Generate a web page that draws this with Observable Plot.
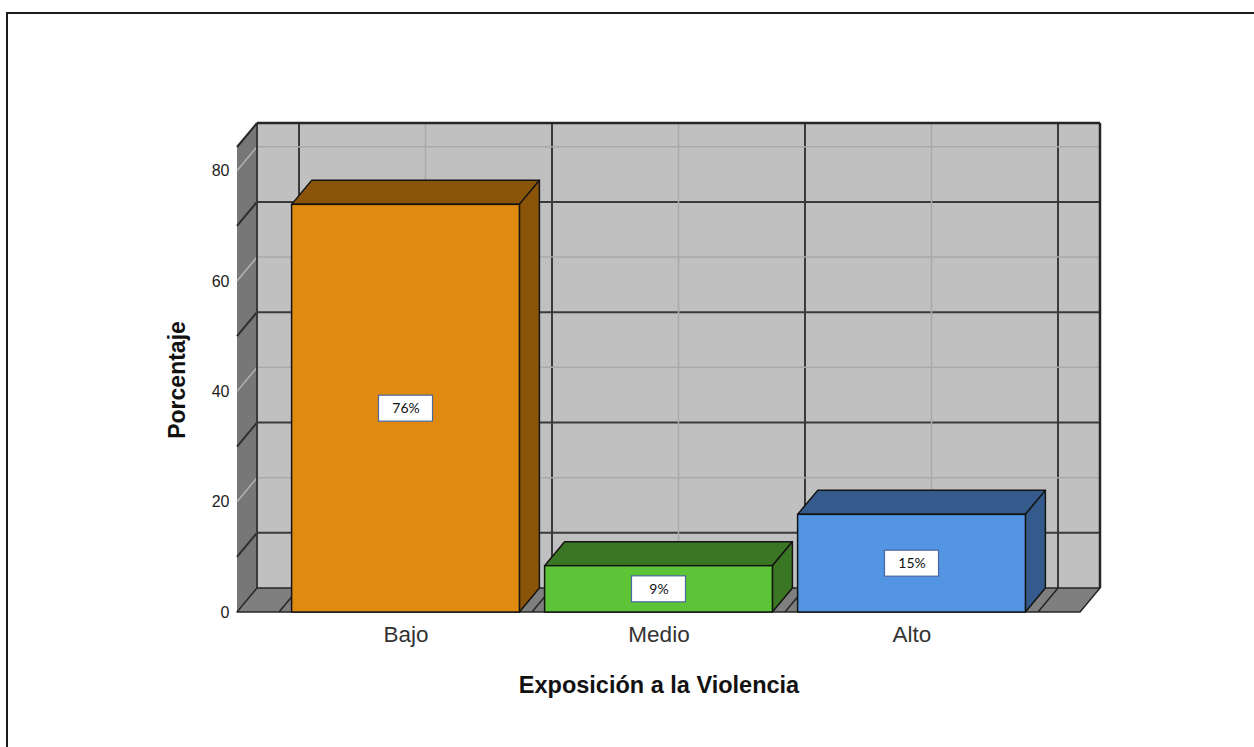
<!DOCTYPE html>
<html><head><meta charset="utf-8">
<script src="https://cdn.jsdelivr.net/npm/d3@7"></script>
<script src="https://cdn.jsdelivr.net/npm/@observablehq/plot@0.6"></script>
<style>
html,body{margin:0;padding:0;background:#fff;overflow:hidden;width:1254px;height:747px;}
#chart{position:absolute;left:0;top:0;}
#frame{position:absolute;left:6px;top:12px;width:1400px;height:900px;border-top:2px solid #1c1c1c;border-left:2px solid #1c1c1c;pointer-events:none;}
</style></head><body>
<div id="chart"></div><div id="frame"></div>
<script>
// ---- data ----
const categories = ["Bajo", "Medio", "Alto"];
const percentages = [73.9, 8.4, 17.7];
const labelTexts = ["76%", "9%", "15%"];
const frontColors = ["#E08A0F", "#5DC437", "#5394E3"];
const sideColors = ["#8A5409", "#3A7624", "#345B8C"];
const yTicks = [0, 20, 40, 60, 80];
const minorTicks = [10, 30, 50, 70];
const xTitle = "Exposición a la Violencia";
const yTitle = "Porcentaje";

// ---- styling constants ----
const DX = 20, DY = -24, INSET = 12.6;
const FONT = "'Liberation Sans', Arial, sans-serif";
const data = categories.map((c, i) => ({category: c, value: percentages[i], label: labelTexts[i], front: frontColors[i], side: sideColors[i]}));

function bandwidthOf(scales) {
  const x = scales.x;
  if (x && typeof x.bandwidth === "function") return x.bandwidth();
  if (scales.scales && scales.scales.x && scales.scales.x.bandwidth != null) return scales.scales.x.bandwidth;
  return scales.x(categories[1]) - scales.x(categories[0]);
}

function pathOf(pts) { return "M" + pts.map(p => p.join(",")).join("L") + "Z"; }

function renderWalls(index, scales, values, dims) {
  const {width, marginLeft, marginRight, marginTop} = dims;
  const x0 = marginLeft, x1 = width - marginRight;
  const y0 = scales.y(0), yT = marginTop;
  const bw = bandwidthOf(scales);
  const g = d3.create("svg:g");
  const poly = (pts, fill, stroke, sw) => g.append("path").attr("d", pathOf(pts)).attr("fill", fill).attr("stroke", stroke || "none").attr("stroke-width", sw || 0).attr("stroke-linejoin", "round");
  const seg = (ax, ay, bx, by, stroke, sw) => g.append("line").attr("x1", ax).attr("y1", ay).attr("x2", bx).attr("y2", by).attr("stroke", stroke).attr("stroke-width", sw);
  const LIGHT = "#a9a9a9", DARK = "#3a3a3a";
  // back wall
  poly([[x0 + DX, yT + DY], [x1 + DX, yT + DY], [x1 + DX, y0 + DY], [x0 + DX, y0 + DY]], "#c0c0c0");
  // dark verticals at category boundaries
  const bounds = categories.map(c => scales.x(c)).concat([scales.x(categories[categories.length - 1]) + bw]);
  for (const b of bounds) seg(b + DX, yT + DY, b + DX, y0 + DY, DARK, 2);
  // dark horizontals (minor)
  for (const t of minorTicks) seg(x0 + DX, scales.y(t) + DY, x1 + DX, scales.y(t) + DY, DARK, 2);
  // light verticals at category centres
  for (const c of categories) { const xc = scales.x(c) + bw / 2 + DX; seg(xc, yT + DY, xc, y0 + DY, LIGHT, 1.5); }
  // light horizontals
  for (const t of yTicks) if (t > 0) seg(x0 + DX, scales.y(t) + DY, x1 + DX, scales.y(t) + DY, LIGHT, 1.5);
  // left wall
  poly([[x0, yT], [x0 + DX, yT + DY], [x0 + DX, y0 + DY], [x0, y0]], "#777777");
  for (const t of minorTicks) seg(x0, scales.y(t), x0 + DX, scales.y(t) + DY, "#2e2e2e", 2);
  for (const t of yTicks) if (t > 0) seg(x0, scales.y(t), x0 + DX, scales.y(t) + DY, "#b4b4b4", 1.5);
  seg(x0 + DX, yT + DY, x0 + DX, y0 + DY, DARK, 2);
  // floor
  poly([[x0, y0], [x0 + DX, y0 + DY], [x1 + DX, y0 + DY], [x1, y0]], "#7f7f7f", "#262626", 1.5);
  for (const b of bounds) seg(b, y0, b + DX, y0 + DY, "#262626", 1.5);
  // outer edges
  seg(x0, yT, x0 + DX, yT + DY, "#262626", 2);
  seg(x0 + DX, yT + DY, x1 + DX, yT + DY, "#262626", 2.5);
  seg(x1 + DX, yT + DY, x1 + DX, y0 + DY, "#262626", 2.5);
  return g.node();
}

function renderBarFaces(index, scales) {
  const bw = bandwidthOf(scales);
  const g = d3.create("svg:g");
  for (const i of index) {
    const d = data[i];
    const xl = scales.x(d.category) + INSET, xr = scales.x(d.category) + bw - INSET;
    const yt = scales.y(d.value), yb = scales.y(0);
    g.append("path").attr("d", pathOf([[xl, yt], [xl + DX, yt + DY], [xr + DX, yt + DY], [xr, yt]]))
      .attr("fill", d.side).attr("stroke", "#141414").attr("stroke-width", 1.5).attr("stroke-linejoin", "round");
    g.append("path").attr("d", pathOf([[xr, yt], [xr + DX, yt + DY], [xr + DX, yb + DY], [xr, yb]]))
      .attr("fill", d.side).attr("stroke", "#141414").attr("stroke-width", 1.5).attr("stroke-linejoin", "round");
  }
  return g.node();
}

function renderLabelBoxes(index, scales) {
  const bw = bandwidthOf(scales);
  const g = d3.create("svg:g");
  for (const i of index) {
    const d = data[i];
    const cx = scales.x(d.category) + bw / 2, cy = scales.y(d.value / 2);
    g.append("rect").attr("x", cx - 27).attr("y", cy - 13).attr("width", 54).attr("height", 26)
      .attr("fill", "#ffffff").attr("stroke", "#4a67a0").attr("stroke-width", 1.2);
  }
  return g.node();
}

const chart = Plot.plot({
  width: 1254,
  height: 747,
  marginLeft: 237,
  marginRight: 174,
  marginTop: 147,
  marginBottom: 135,
  style: {fontFamily: FONT, background: "transparent"},
  x: {domain: categories, paddingInner: 0, paddingOuter: 0.164, axis: null},
  y: {domain: [0, 84.3], axis: null},
  marks: [
    Plot.frame({stroke: "none", render: renderWalls}),
    Plot.barY(data, {x: "category", y: "value", render: renderBarFaces}),
    Plot.barY(data, {x: "category", y: "value", fill: "front", insetLeft: INSET, insetRight: INSET, stroke: "#141414", strokeWidth: 1.5}),
    Plot.barY(data, {x: "category", y: "value", render: renderLabelBoxes}),
    Plot.text(data, {x: "category", y: d => d.value / 2, text: "label", fontSize: 14, fontFamily: "Lato, 'Open Sans', sans-serif", fill: "#111"}),
    Plot.axisY(yTicks, {tickSize: 0, tickPadding: 8, fontSize: 16, fill: "#222", label: null}),
    Plot.axisX({tickSize: 0, tickPadding: 14, fontSize: 22.5, fill: "#333", label: null}),
    Plot.text([xTitle], {frameAnchor: "bottom", lineAnchor: "middle", dy: 73, fontSize: 23.5, fontWeight: "bold", fill: "#111"}),
    Plot.text([yTitle], {frameAnchor: "left", textAnchor: "middle", lineAnchor: "middle", dx: -60, rotate: -90, fontSize: 23, fontWeight: "bold", fill: "#111"})
  ]
});
document.getElementById("chart").appendChild(chart);
</script>
</body></html>
